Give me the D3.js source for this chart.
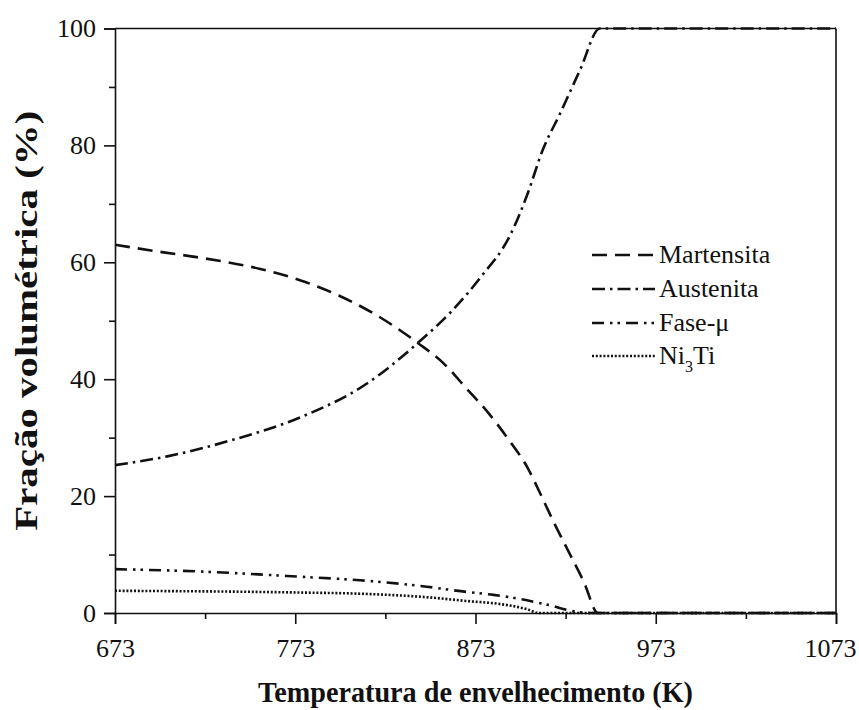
<!DOCTYPE html>
<html>
<head>
<meta charset="utf-8">
<script src="https://cdn.jsdelivr.net/npm/d3@7"></script>
<style>
  html, body { margin: 0; padding: 0; background: #fff; }
  svg { display: block; }
  text { font-family: "Liberation Serif", "Times New Roman", "DejaVu Serif", serif; fill: #111; }
</style>
</head>
<body>
<svg id="chart" width="859" height="710"></svg>
<script>
// Phase volume fractions (%) versus aging temperature (K)
const martensitaT = [673, 700, 720, 753, 776, 798, 820, 841, 855, 868, 881, 892, 902, 909, 916, 925, 933, 941, 1073];
const martensitaV = [63.0, 61.7, 60.8, 58.9, 56.9, 54.2, 50.6, 46.2, 42.8, 38.4, 33.9, 29.4, 24.8, 20.4, 15.8, 10.3, 5.4, 0, 0];

const austenitaT = [673, 702, 738, 776, 813, 841, 859, 876, 892, 902, 910, 920, 931, 942, 1073];
const austenitaV = [25.3, 26.8, 29.6, 33.5, 39.3, 46.2, 51.4, 57.5, 64.5, 71.8, 79.0, 85.5, 92.9, 100, 100];

const faseMuT = [673, 720, 776, 809, 846, 868, 883, 894, 913, 929, 935, 1073];
const faseMuV = [7.5, 7.1, 6.2, 5.6, 4.5, 3.6, 3.1, 2.6, 1.4, 0.2, 0, 0];

const ni3tiT = [673, 776, 809, 846, 870, 885, 902, 908, 1073];
const ni3tiV = [3.8, 3.5, 3.3, 2.7, 2.0, 1.6, 0.6, 0, 0];

const xTicks = [673, 773, 873, 973, 1073];
const xMinorTicks = [723, 823, 923, 1023];
const yTicks = [0, 20, 40, 60, 80, 100];
const yMinorTicks = [10, 30, 50, 70, 90];

const seriesNames = ["Martensita", "Austenita", "Fase-\u03bc", "Ni3Ti"];

const width = 859, height = 710;
const margin = { top: 28.5, right: 23, bottom: 97, left: 115 };

const svg = d3.select("#chart");

const x = d3.scaleLinear().domain([673, 1073]).range([margin.left, width - margin.right]);
const y = d3.scaleLinear().domain([0, 100]).range([height - margin.bottom, margin.top]);

const series = [
  { name: seriesNames[0], t: martensitaT, v: martensitaV, dash: "15,8" },
  { name: seriesNames[1], t: austenitaT, v: austenitaV, dash: "13,5,2.5,5" },
  { name: seriesNames[2], t: faseMuT, v: faseMuV, dash: "12,6,2.5,5,2.5,6" },
  { name: seriesNames[3], t: ni3tiT, v: ni3tiV, dash: "2,1.8" }
];

const line = d3.line()
  .x(d => x(d[0]))
  .y(d => y(d[1]))
  .curve(d3.curveMonotoneX);

const plot = svg.append("g");
series.forEach(s => {
  plot.append("path")
    .datum(s.t.map((t, i) => [t, s.v[i]]))
    .attr("fill", "none")
    .attr("stroke", "#111")
    .attr("stroke-width", 2.6)
    .attr("stroke-dasharray", s.dash)
    .attr("d", line);
});

// frame: top and right borders
svg.append("line")
  .attr("x1", x(673)).attr("x2", x(1073))
  .attr("y1", y(100)).attr("y2", y(100))
  .attr("stroke", "#111").attr("stroke-width", 1.6);
svg.append("line")
  .attr("x1", x(1073)).attr("x2", x(1073))
  .attr("y1", y(0)).attr("y2", y(100))
  .attr("stroke", "#111").attr("stroke-width", 1.6);

// x axis
const xAxis = svg.append("g")
  .attr("transform", `translate(0,${y(0)})`)
  .call(d3.axisBottom(x).tickValues(xTicks).tickSize(11).tickPadding(14.5).tickFormat(d3.format("d")));
svg.append("g")
  .attr("transform", `translate(0,${y(0)})`)
  .call(d3.axisBottom(x).tickValues(xMinorTicks).tickSize(6).tickFormat(""))
  .call(g => g.select(".domain").remove());

// y axis
const yAxis = svg.append("g")
  .attr("transform", `translate(${x(673)},0)`)
  .call(d3.axisLeft(y).tickValues(yTicks).tickSize(11).tickPadding(8).tickFormat(d3.format("d")));
svg.append("g")
  .attr("transform", `translate(${x(673)},0)`)
  .call(d3.axisLeft(y).tickValues(yMinorTicks).tickSize(6).tickFormat(""))
  .call(g => g.select(".domain").remove());

svg.selectAll(".domain").attr("stroke", "#111").attr("stroke-width", 1.6);
svg.selectAll(".tick line").attr("stroke", "#111").attr("stroke-width", 1.6);
svg.selectAll(".tick text")
  .attr("font-family", null)
  .attr("font-size", 26)
  .attr("fill", "#111");

// keep the last x label inside the frame
xAxis.selectAll(".tick text")
  .filter(d => d === 1073)
  .attr("text-anchor", "end")
  .attr("dx", 20);

// axis titles
svg.append("text")
  .attr("x", (x(673) + x(1073)) / 2)
  .attr("y", 702)
  .attr("text-anchor", "middle")
  .attr("font-size", 29)
  .attr("font-weight", "bold")
  .attr("textLength", 435)
  .attr("lengthAdjust", "spacingAndGlyphs")
  .text("Temperatura de envelhecimento (K)");

svg.append("text")
  .attr("transform", `translate(37,${(y(0) + y(100)) / 2}) rotate(-90)`)
  .attr("text-anchor", "middle")
  .attr("font-size", 31)
  .attr("font-weight", "bold")
  .attr("textLength", 420)
  .attr("lengthAdjust", "spacingAndGlyphs")
  .text("Fração volumétrica (%)");

// legend
const legend = svg.append("g");
const legendY = [255, 289, 323, 356];
series.forEach((s, i) => {
  legend.append("line")
    .attr("x1", 592).attr("x2", 655)
    .attr("y1", legendY[i]).attr("y2", legendY[i])
    .attr("stroke", "#111")
    .attr("stroke-width", 2.6)
    .attr("stroke-dasharray", s.dash);
  const label = legend.append("text")
    .attr("x", 659)
    .attr("y", legendY[i] + 8)
    .attr("font-size", 26);
  if (s.name === "Ni3Ti") {
    label.append("tspan").text("Ni");
    label.append("tspan").attr("font-size", 16).attr("dy", 8).text("3");
    label.append("tspan").attr("dy", -8).text("Ti");
  } else {
    label.text(s.name);
  }
});
</script>
</body>
</html>
